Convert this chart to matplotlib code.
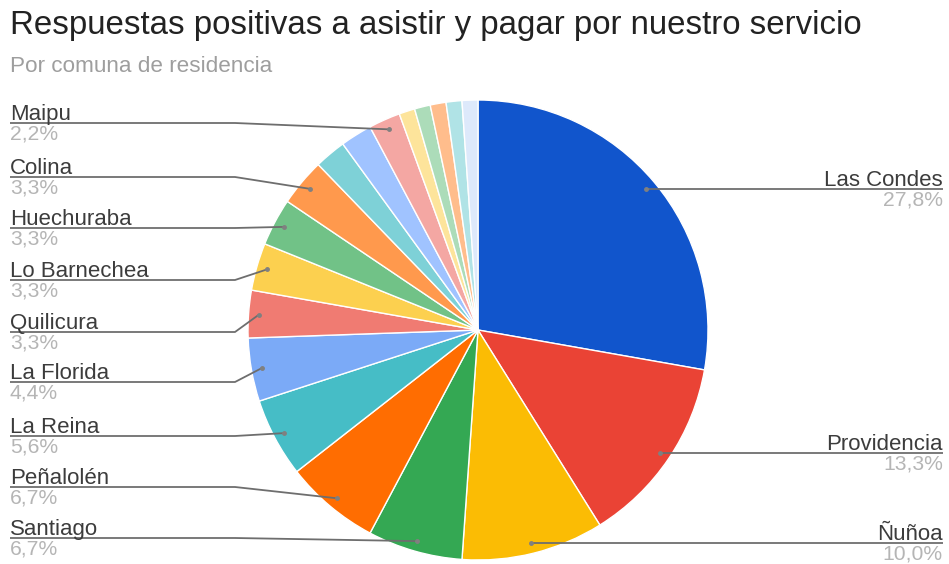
import numpy as np
import matplotlib
matplotlib.use("Agg")
import matplotlib.pyplot as plt

W, H = 949, 564

# responses per comuna (90 in total), in slice order clockwise from the top
comunas = ["Las Condes", "Providencia", "Ñuñoa", "Santiago", "Peñalolén", "La Reina",
           "La Florida", "Quilicura", "Lo Barnechea", "Huechuraba", "Colina",
           "Otra 1", "Otra 2", "Maipu", "Otra 3", "Otra 4", "Otra 5", "Otra 6", "Otra 7"]
respuestas = [25, 12, 9, 6, 6, 5, 4, 3, 3, 3, 3, 2, 2, 2, 1, 1, 1, 1, 1]
colores = ["#1155cc", "#ea4335", "#fbbc04", "#34a853", "#ff6d01", "#46bdc6",
           "#7baaf7", "#f07b72", "#fcd04f", "#71c287", "#ff994d", "#7ed1d7",
           "#a0c3ff", "#f4a7a3", "#fde49b", "#acdcb9", "#ffbd8c", "#b0e3e6", "#dde9fb"]

# labelled slices: (name, y of the underline in pixels from the top)
etiquetas_izq = [("Maipu", 123), ("Colina", 177), ("Huechuraba", 228), ("Lo Barnechea", 280),
                 ("Quilicura", 332), ("La Florida", 382), ("La Reina", 436),
                 ("Peñalolén", 487), ("Santiago", 538)]
etiquetas_der = ["Las Condes", "Providencia", "Ñuñoa"]

plt.rcParams['font.family'] = ['Liberation Sans', 'DejaVu Sans']

fig = plt.figure(figsize=(W / 100, H / 100), dpi=100)
ax = fig.add_axes([0, 0, 1, 1])

cx, cy, R = 478, H - 330, 230
wedges, _ = ax.pie(respuestas, colors=colores, startangle=90, counterclock=False,
                   center=(cx, cy), radius=R,
                   wedgeprops=dict(edgecolor="white", linewidth=1))
ax.set_xlim(0, W)
ax.set_ylim(0, H)
ax.set_aspect("auto")
ax.axis("off")

total = sum(respuestas)


def punto(nombre):
    w = wedges[comunas.index(nombre)]
    a = np.deg2rad((w.theta1 + w.theta2) / 2)
    return cx + 0.955 * R * np.cos(a), cy + 0.955 * R * np.sin(a)


def pct(nombre):
    v = respuestas[comunas.index(nombre)] / total * 100
    return f"{v:.1f}%".replace(".", ",")


line_kw = dict(color="#6e6e6e", lw=1.3, solid_capstyle="butt")
name_kw = dict(fontsize=16, color="#3c3c3c")
pct_kw = dict(fontsize=15.2, color="#b5b5b5")

for nombre, py in etiquetas_izq:
    ly = H - py
    px, pyy = punto(nombre)
    ax.plot([10, 235, px], [ly, ly, pyy], **line_kw)
    ax.plot(px, pyy, "o", ms=2.5, color="#808080")
    ax.text(10, ly + 3, nombre, ha="left", va="baseline", **name_kw)
    ax.text(10, ly - 1.6, pct(nombre), ha="left", va="top", **pct_kw)

for nombre in etiquetas_der:
    px, pyy = punto(nombre)
    ax.plot([px, 943], [pyy, pyy], **line_kw)
    ax.plot(px, pyy, "o", ms=2.5, color="#808080")
    ax.text(943, pyy + 3, nombre, ha="right", va="baseline", **name_kw)
    ax.text(943, pyy - 1.6, pct(nombre), ha="right", va="top", **pct_kw)

fig.text(10 / W, 1 - 34 / H, "Respuestas positivas a asistir y pagar por nuestro servicio",
         ha="left", va="baseline", fontsize=23.8, color="#222222")
fig.text(10 / W, 1 - 72 / H, "Por comuna de residencia",
         ha="left", va="baseline", fontsize=16.2, color="#9e9e9e")

fig.savefig("out.png", dpi=100, facecolor="white")
